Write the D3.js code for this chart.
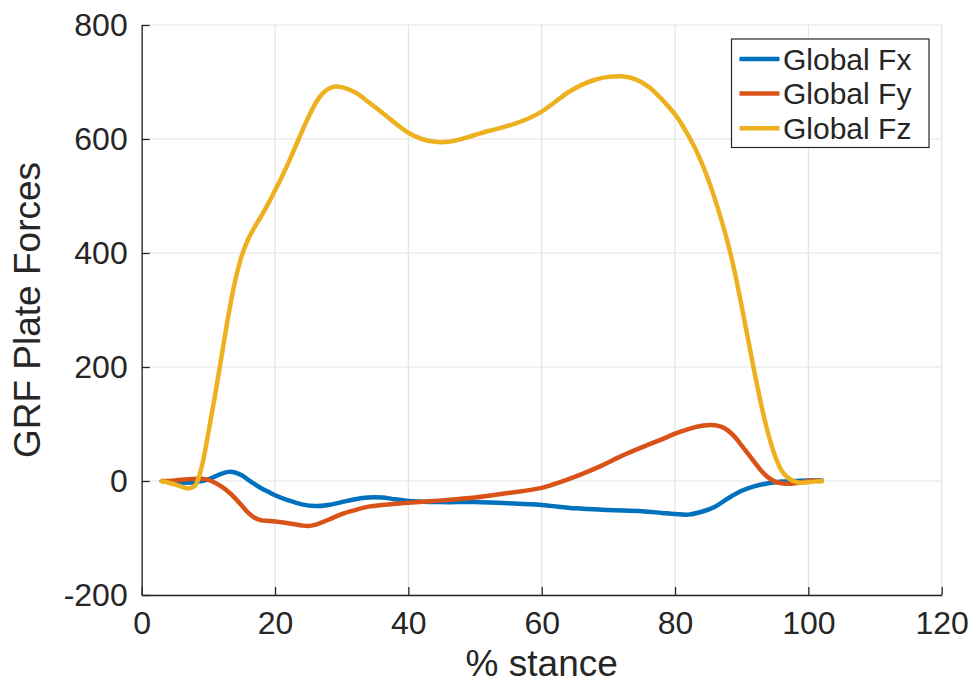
<!DOCTYPE html>
<html>
<head>
<meta charset="utf-8">
<script src="https://cdn.jsdelivr.net/npm/d3@7"></script>
<style>
  body { margin: 0; background: #fff; }
  svg text { font-family: "Liberation Sans", Arial, Helvetica, sans-serif; fill: #262626; }
</style>
</head>
<body>
<svg id="chart" width="978" height="686"></svg>
<script>
// ====
// DATA
// ====

const xTicks = [0, 20, 40, 60, 80, 100, 120];
const yTicks = [-200, 0, 200, 400, 600, 800];
const seriesNames = ["Global Fx", "Global Fy", "Global Fz"];
const seriesColors = ["#0072BD", "#D95319", "#EDB120"];

const fxX = [3, 5, 7, 9, 10, 11, 12, 13, 14, 15, 16, 17, 18, 19, 20, 22, 24, 26, 28, 30, 32, 34, 36, 38, 40, 45, 50, 55, 60, 65, 70, 75, 78, 80, 82, 84, 86, 88, 90, 92, 94, 96, 98, 100, 102];
const fxY = [0, -2, -3, 0, 3, 8, 13, 16, 15, 10, 2, -6, -13, -19, -25, -34, -41, -44, -42, -37, -32, -29, -29, -32, -35, -37, -37, -39, -42, -48, -51, -53, -56, -58, -59, -54, -45, -30, -17, -9, -4, -1, 0, 1, 1];

const fyX = [3, 5, 7, 9, 10, 11, 12, 13, 14, 15, 16, 17, 18, 19, 20, 22, 24, 25, 26, 28, 30, 32, 34, 36, 38, 40, 45, 50, 55, 60, 63, 66, 69, 72, 75, 78, 80, 82, 84, 86, 87, 88, 89, 90, 91, 92, 93, 94, 95, 96, 97, 98, 99, 100, 102];
const fyY = [0, 1, 3, 4, 2, -3, -10, -19, -30, -43, -56, -65, -69, -70, -71, -74, -78, -79, -77, -68, -58, -51, -45, -42, -40, -38, -34, -29, -21, -12, -1, 12, 27, 44, 59, 73, 83, 91, 97, 98, 95, 88, 77, 62, 47, 32, 17, 6, -1, -4, -5, -4, -2, 0, 0];

const fzX = [3, 5, 7, 8, 9, 10, 11, 12, 13, 14, 15, 16, 17, 18, 19, 20, 21, 22, 23, 24, 25, 26, 27, 28, 29, 30, 32, 34, 36, 38, 40, 42, 44, 46, 48, 50, 52, 54, 56, 58, 60, 62, 64, 66, 68, 70, 72, 74, 76, 78, 80, 81, 82, 83, 84, 85, 86, 87, 88, 89, 90, 91, 92, 93, 94, 95, 96, 97, 98, 99, 100, 102];
const fzY = [0, -6, -13, -8, 25, 85, 150, 220, 290, 350, 395, 425, 447, 466, 487, 510, 533, 558, 585, 612, 638, 661, 678, 688, 692, 691, 682, 665, 647, 628, 611, 600, 595, 595, 600, 607, 614, 620, 627, 636, 648, 665, 682, 695, 704, 709, 710, 705, 692, 670, 643, 626, 606, 584, 558, 528, 494, 456, 414, 364, 306, 246, 186, 130, 82, 44, 18, 5, -1, -3, -2, 0];

const series = [
  { name: seriesNames[0], color: seriesColors[0], xs: fxX, ys: fxY },
  { name: seriesNames[1], color: seriesColors[1], xs: fyX, ys: fyY },
  { name: seriesNames[2], color: seriesColors[2], xs: fzX, ys: fzY },
];

// ======
// LAYOUT
// ======

const plotLeft = 141.7, plotRight = 941.7, plotTop = 25, plotBottom = 595;
const axisColor = "#262626";
const gridColor = "#e3e3e3";

const svg = d3.select("#chart");

const x = d3.scaleLinear().domain([0, 120]).range([plotLeft, plotRight]);
const y = d3.scaleLinear().domain([-200, 800]).range([plotBottom, plotTop]);

// grid
const grid = svg.append("g");
grid.selectAll(".vgrid").data(xTicks).enter().append("line")
  .attr("x1", d => x(d)).attr("x2", d => x(d))
  .attr("y1", plotTop).attr("y2", plotBottom)
  .attr("stroke", gridColor).attr("stroke-width", 1.2);
grid.selectAll(".hgrid").data(yTicks).enter().append("line")
  .attr("x1", plotLeft).attr("x2", plotRight)
  .attr("y1", d => y(d)).attr("y2", d => y(d))
  .attr("stroke", gridColor).attr("stroke-width", 1.2);

// axes (ticks point inward like matlab, plain hyphen for negatives)
const plain = d => String(d);
const xAxis = svg.append("g")
  .attr("transform", `translate(0,${plotBottom})`)
  .call(d3.axisBottom(x).tickValues(xTicks).tickFormat(plain).tickSizeInner(-8).tickSizeOuter(0).tickPadding(16));
const yAxis = svg.append("g")
  .attr("transform", `translate(${plotLeft},0)`)
  .call(d3.axisLeft(y).tickValues(yTicks).tickFormat(plain).tickSizeInner(-8).tickSizeOuter(0).tickPadding(14));

[xAxis, yAxis].forEach(a => {
  a.select(".domain").attr("stroke", axisColor).attr("stroke-width", 1.3);
  a.selectAll(".tick line").attr("stroke", axisColor).attr("stroke-width", 1.3);
  a.selectAll(".tick text")
    .attr("fill", axisColor)
    .style("font-family", "'Liberation Sans', Arial, sans-serif")
    .style("font-size", "32px");
});
xAxis.selectAll(".tick text").attr("dy", "0.71em");

// axis titles
svg.append("text")
  .attr("x", (plotLeft + plotRight) / 2).attr("y", 676)
  .attr("text-anchor", "middle")
  .style("font-size", "37px")
  .text("% stance");

svg.append("text")
  .attr("transform", `translate(40,${(plotTop + plotBottom) / 2}) rotate(-90)`)
  .attr("text-anchor", "middle")
  .style("font-size", "37px")
  .text("GRF Plate Forces");

// lines
const line = d3.line()
  .x(d => x(d[0]))
  .y(d => y(d[1]))
  .curve(d3.curveCatmullRom.alpha(0.5));

svg.append("g").selectAll(".series").data(series).enter().append("path")
  .attr("fill", "none")
  .attr("stroke", d => d.color)
  .attr("stroke-width", 4.5)
  .attr("stroke-linejoin", "round")
  .attr("stroke-linecap", "round")
  .attr("d", d => line(d.xs.map((v, i) => [v, d.ys[i]])));

// legend
const legend = svg.append("g");
legend.append("rect")
  .attr("x", 731.5).attr("y", 39).attr("width", 197.5).attr("height", 108.5)
  .attr("fill", "#fff").attr("stroke", axisColor).attr("stroke-width", 1.2);

const rows = legend.selectAll(".row").data(series).enter().append("g")
  .attr("transform", (d, i) => `translate(0,${59 + i * 34.6})`);
rows.append("line")
  .attr("x1", 739.5).attr("x2", 779.5)
  .attr("stroke", d => d.color).attr("stroke-width", 4.5);
rows.append("text")
  .attr("x", 783).attr("dy", "0.36em")
  .style("font-size", "30px")
  .attr("fill", "#000")
  .text(d => d.name);
</script>
</body>
</html>
